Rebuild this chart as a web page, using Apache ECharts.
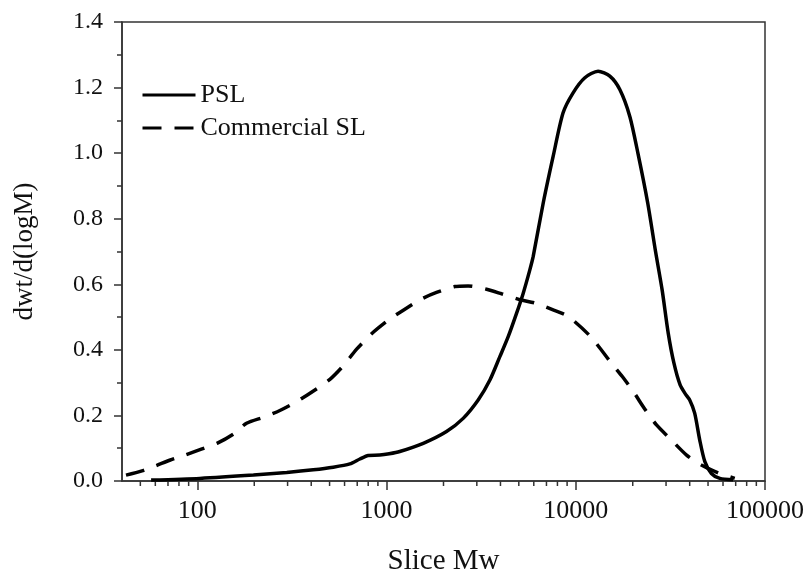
<!DOCTYPE html>
<html>
<head>
<meta charset="utf-8">
<script src="https://cdn.jsdelivr.net/npm/echarts@6/dist/echarts.min.js"></script>
<style>html,body{margin:0;padding:0;background:#fff;}#c{width:808px;height:569px;}</style>
</head>
<body>
<div id="c"></div>
<script>
// PSL: slice Mw and dwt/d(logM)
const pslMw  = [57, 103, 198, 297, 410, 523, 640, 723, 800, 922, 1033, 1175, 1563, 2075, 2541, 3050, 3518, 3975, 4400, 4868, 5277, 5718, 5958, 6730, 7593, 8570, 9680, 11170, 13120, 15140, 17090, 19300, 21300, 24000, 26400, 28600, 30800, 33000, 35600, 38000, 40000, 42500, 45200, 48100, 52100, 57700, 67800];
const pslVal = [0.003, 0.008, 0.018, 0.026, 0.034, 0.042, 0.052, 0.067, 0.078, 0.079, 0.083, 0.090, 0.115, 0.151, 0.191, 0.247, 0.308, 0.380, 0.441, 0.512, 0.573, 0.644, 0.685, 0.848, 0.990, 1.123, 1.184, 1.230, 1.250, 1.235, 1.194, 1.112, 1.000, 0.848, 0.700, 0.583, 0.451, 0.360, 0.293, 0.265, 0.247, 0.207, 0.125, 0.059, 0.023, 0.008, 0.004];
// Commercial SL
const slMw  = [42, 51, 60, 72, 86, 105, 127, 155, 182, 228, 273, 335, 407, 502, 590, 695, 834, 1030, 1250, 1531, 1837, 2296, 2700, 3378, 4056, 5068, 6083, 7590, 9120, 12000, 15450, 17660, 20400, 23000, 26700, 31400, 38500, 46100, 57700, 69200];
const slVal = [0.018, 0.031, 0.046, 0.064, 0.079, 0.097, 0.115, 0.143, 0.176, 0.196, 0.215, 0.242, 0.273, 0.310, 0.351, 0.402, 0.449, 0.492, 0.524, 0.555, 0.575, 0.593, 0.595, 0.585, 0.571, 0.553, 0.543, 0.522, 0.502, 0.440, 0.359, 0.318, 0.268, 0.222, 0.171, 0.130, 0.079, 0.049, 0.023, 0.008];
// minor tick positions on the log x axis
const xMinorTicks = [50, 60, 70, 80, 90, 200, 300, 400, 500, 600, 700, 800, 900, 2000, 3000, 4000, 5000, 6000, 7000, 8000, 9000, 20000, 30000, 40000, 50000, 60000, 70000, 80000, 90000];

const FONT = '"Liberation Serif", "Times New Roman", serif';
const AXC = '#333';

const chart = echarts.init(document.getElementById('c'), null, {renderer: 'canvas'});
chart.setOption({
  animation: false,
  backgroundColor: '#fff',
  grid: {left: 122, right: 43, top: 22, bottom: 88, show: true, borderColor: AXC, borderWidth: 1.5,
    backgroundColor: 'transparent', containLabel: false, outerBoundsMode: 'none'},
  legend: {
    data: ['PSL', 'Commercial SL'],
    orient: 'vertical', left: 136, top: 77,
    itemWidth: 53, itemHeight: 16, itemGap: 7,
    itemStyle: {color: 'rgba(0,0,0,0)', borderWidth: 0, opacity: 0},
    lineStyle: {width: 3},
    textStyle: {fontFamily: FONT, fontSize: 26, color: '#111'}
  },
  xAxis: {
    type: 'log', logBase: 10, min: 40, max: 100000,
    name: 'Slice Mw', nameLocation: 'middle', nameGap: 66,
    nameTextStyle: {fontFamily: FONT, fontSize: 29, color: '#111'},
    axisLine: {lineStyle: {color: AXC, width: 1.5}},
    axisTick: {show: true, length: 9, lineStyle: {color: AXC, width: 1.5}},
    minorTick: {show: false},
    splitLine: {show: false},
    axisLabel: {showMinLabel: false, margin: 17, fontFamily: FONT, fontSize: 26, color: '#111',
      formatter: v => String(Math.round(v))}
  },
  yAxis: {
    type: 'value', min: 0, max: 1.4, interval: 0.2,
    name: 'dwt/d(logM)', nameLocation: 'middle', nameGap: 84,
    nameTextStyle: {fontFamily: FONT, fontSize: 27, color: '#111'},
    axisLine: {show: true, lineStyle: {color: AXC, width: 1.5}},
    axisTick: {show: true, length: 8, lineStyle: {color: AXC, width: 1.5}},
    minorTick: {show: true, splitNumber: 2, length: 5, lineStyle: {color: AXC, width: 1.5}},
    splitLine: {show: false},
    axisLabel: {margin: 19, fontFamily: FONT, fontSize: 24, color: '#111',
      formatter: v => v.toFixed(1)}
  },
  series: [
    {
      name: 'PSL', type: 'line', symbol: 'none', smooth: 0.25,
      lineStyle: {color: '#000', width: 3.5, type: 'solid'},
      itemStyle: {color: '#000'},
      data: pslMw.map((m, i) => [m, pslVal[i]])
    },
    {
      name: 'Commercial SL', type: 'line', symbol: 'none', smooth: 0.25,
      lineStyle: {color: '#000', width: 3.5, type: [19, 13]},
      itemStyle: {color: '#000'},
      data: slMw.map((m, i) => [m, slVal[i]])
    },
    {
      name: 'minorTicks', type: 'custom', silent: true, clip: false,
      encode: {x: 0, y: 1},
      data: xMinorTicks.map(v => [v, 0]),
      renderItem: function (params, api) {
        const p = api.coord([api.value(0), 0]);
        return {type: 'line', shape: {x1: p[0], y1: p[1], x2: p[0], y2: p[1] + 5},
          style: {stroke: AXC, lineWidth: 1.5}};
      }
    }
  ]
});
</script>
</body>
</html>
